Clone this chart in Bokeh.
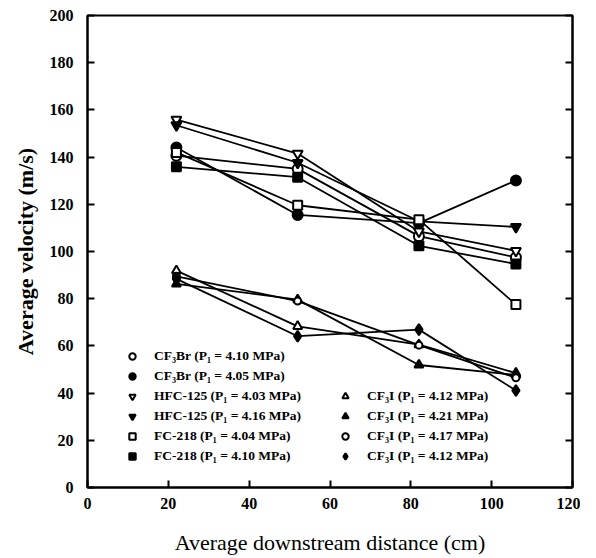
from bokeh.plotting import figure
from bokeh.models import (LinearAxis, Legend, LegendItem, SingleIntervalTicker,
                          Range1d, CustomJSTickFormatter)
from bokeh.embed import file_html
from bokeh.resources import INLINE

# ---- data ----
distance = [22, 52, 82, 106]

cf3br_410 = [140.6, 135.0, 106.5, 97.5]
cf3br_405 = [144.1, 115.5, 112.0, 130.1]
hfc125_403 = [155.9, 141.5, 108.5, 100.3]
hfc125_416 = [153.5, 137.6, 112.8, 110.4]
fc218_404 = [142.0, 119.6, 113.5, 77.5]
fc218_410 = [135.9, 131.5, 102.4, 94.7]
cf3i_412a = [91.9, 68.3, 60.5, 48.5]
cf3i_421 = [86.3, 79.6, 51.9, 47.7]
cf3i_417 = [89.5, 79.0, 60.3, 46.5]
cf3i_412b = [88.4, 64.1, 66.9, 41.1]

labels_left = ["CF\u2083Br (P\u2081 = 4.10 MPa)", "CF\u2083Br (P\u2081 = 4.05 MPa)",
               "HFC-125 (P\u2081 = 4.03 MPa)", "HFC-125 (P\u2081 = 4.16 MPa)",
               "FC-218 (P\u2081 = 4.04 MPa)", "FC-218 (P\u2081 = 4.10 MPa)"]
labels_right = ["CF\u2083I (P\u2081 = 4.12 MPa)", "CF\u2083I (P\u2081 = 4.21 MPa)",
                "CF\u2083I (P\u2081 = 4.17 MPa)", "CF\u2083I (P\u2081 = 4.12 MPa)"]

x_label = "Average downstream distance (cm)"
y_label = "Average velocity (m/s)"

# ---- styles (marker, filled, size) ----
left_series = [cf3br_410, cf3br_405, hfc125_403, hfc125_416, fc218_404, fc218_410]
left_styles = [("circle", False, 10), ("circle", True, 10),
               ("inverted_triangle", False, 10), ("inverted_triangle", True, 10),
               ("square", False, 9), ("square", True, 9)]
right_series = [cf3i_412a, cf3i_421, cf3i_417, cf3i_412b]
right_styles = [("triangle", False, 9), ("triangle", True, 9),
                ("circle", False, 7), ("diamond", True, 11)]

FONT = "Liberation Serif"

p = figure(width=580, height=557, x_range=Range1d(0, 120), y_range=Range1d(0, 200),
           output_backend="svg", toolbar_location=None,
           min_border_left=87, min_border_right=8, min_border_top=15, min_border_bottom=67)
p.grid.visible = False
p.outline_line_color = "black"
p.outline_line_width = 2
p.background_fill_color = "white"
p.border_fill_color = "white"

for ax in (p.xaxis[0], p.yaxis[0]):
    ax.ticker = SingleIntervalTicker(interval=20)
    ax.major_tick_in = 7
    ax.major_tick_out = 0
    ax.minor_tick_line_color = None
    ax.axis_line_width = 2
    ax.major_tick_line_width = 2
    ax.major_label_text_font = FONT
    ax.major_label_text_font_style = "bold"
    ax.major_label_text_font_size = "16px"
    ax.major_label_text_color = "black"
    ax.axis_label_text_font = FONT
    ax.axis_label_text_color = "black"

p.xaxis.axis_label = x_label
p.xaxis.axis_label_text_font_size = "22px"
p.xaxis.axis_label_text_font_style = "normal"
p.xaxis.major_label_standoff = 6
p.xaxis.axis_label_standoff = 18
p.yaxis.axis_label = y_label
p.yaxis.axis_label_text_font_size = "22px"
p.yaxis.axis_label_text_font_style = "bold"
p.yaxis.major_label_standoff = 10
p.yaxis.axis_label_standoff = 9

right = LinearAxis(ticker=SingleIntervalTicker(interval=20),
                   formatter=CustomJSTickFormatter(code="return ''"),
                   major_tick_in=7, major_tick_out=0, minor_tick_line_color=None,
                   axis_line_width=2, major_tick_line_width=2, major_label_standoff=0)
p.add_layout(right, "right")


def draw(series, styles):
    rends = []
    for ys, (marker, filled, size) in zip(series, styles):
        p.line(distance, ys, line_color="black", line_width=1.8)
        r = p.scatter(distance, ys, marker=marker, size=size,
                      line_color="black", line_width=2,
                      fill_color="black" if filled else "white")
        rends.append(r)
    return rends


left_r = draw(left_series, left_styles)
right_r = draw(right_series, right_styles)


def make_legend(labels, rends, loc):
    lg = Legend(items=[LegendItem(label=l, renderers=[r]) for l, r in zip(labels, rends)],
                location=loc, border_line_color=None, background_fill_alpha=0,
                padding=0, margin=0, spacing=4, glyph_width=20, glyph_height=16,
                label_height=16, label_standoff=12,
                label_text_font=FONT, label_text_font_style="bold",
                label_text_font_size="13.5px", label_text_color="black")
    p.add_layout(lg, "center")


make_legend(labels_left, left_r, (35, 23))
make_legend(labels_right, right_r, (248, 23))

open("out.html", "w").write(file_html(p, INLINE))
